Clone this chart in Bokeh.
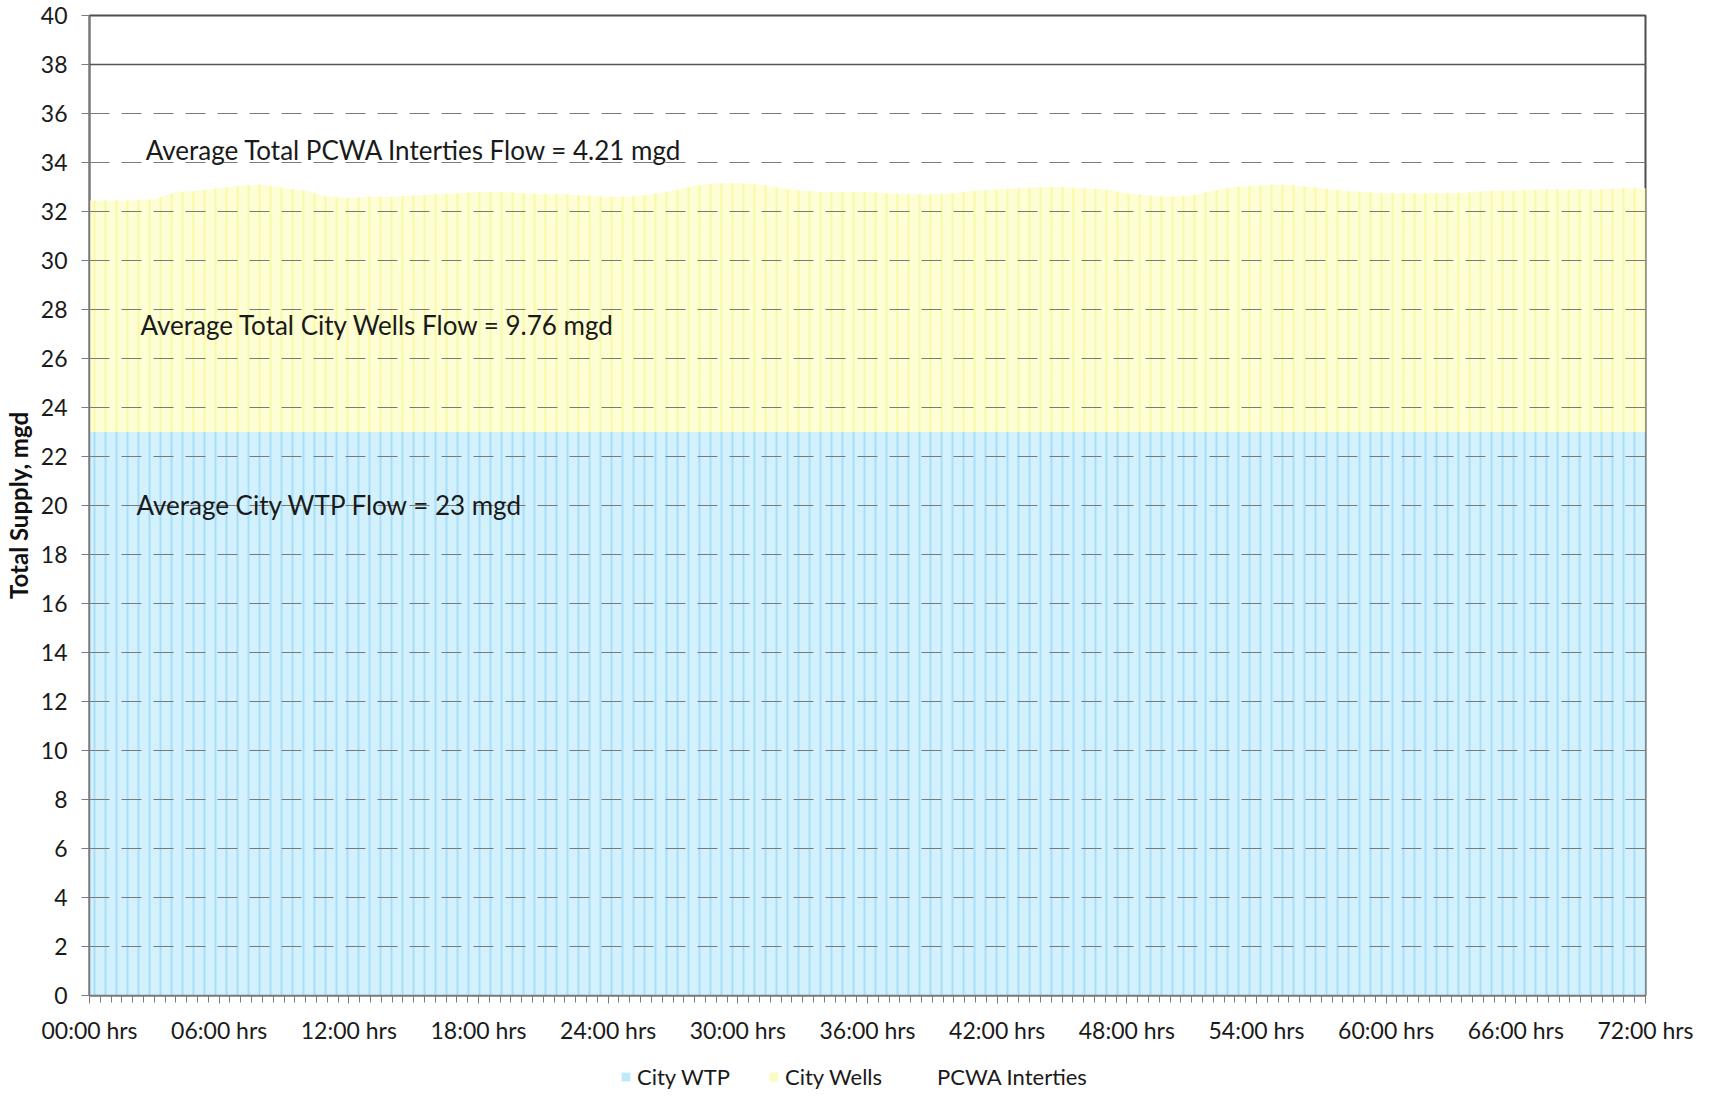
import numpy as np
from bokeh.plotting import figure
from bokeh.layouts import column
from bokeh.models import (FixedTicker, Label, Legend, LegendItem, Span, ColumnDataSource)
from bokeh.embed import file_html
from bokeh.resources import INLINE

# ---------------- data ----------------
hours = list(range(0, 73))
city_wtp = [23.0] * 73
city_wells = [9.45, 9.45, 9.45, 9.5, 9.8, 9.85, 9.95, 10.05, 10.1, 9.95, 9.85,
              9.6, 9.55, 9.6, 9.6, 9.65, 9.7, 9.75, 9.8, 9.8, 9.75, 9.7, 9.7, 9.65,
              9.6, 9.6, 9.7, 9.85, 10.05, 10.15, 10.15, 10.1, 9.95, 9.85, 9.8, 9.8,
              9.8, 9.75, 9.7, 9.7, 9.75, 9.85, 9.9, 9.95, 10.0, 10.0, 9.95, 9.9,
              9.75, 9.65, 9.6, 9.65, 9.85, 10.0, 10.05, 10.1, 10.05, 9.95, 9.85, 9.8,
              9.75, 9.75, 9.75, 9.75, 9.8, 9.85, 9.85, 9.9, 9.9, 9.9, 9.9, 9.95, 9.95]
pcwa_interties = [4.21] * 73

series_names = ["City WTP", "City Wells", "PCWA Interties"]
x_tick_hours = [0, 6, 12, 18, 24, 30, 36, 42, 48, 54, 60, 66, 72]
x_tick_labels = ["00:00 hrs", "06:00 hrs", "12:00 hrs", "18:00 hrs", "24:00 hrs",
                 "30:00 hrs", "36:00 hrs", "42:00 hrs", "48:00 hrs", "54:00 hrs",
                 "60:00 hrs", "66:00 hrs", "72:00 hrs"]
y_ticks = list(range(0, 41, 2))

note_texts = ["Average Total PCWA Interties Flow = 4.21 mgd",
              "Average Total City Wells Flow = 9.76 mgd",
              "Average City WTP Flow = 23 mgd"]
note_x = [2.6, 2.36, 2.17]
note_y = [34.5, 27.35, 20.04]

# ---------------- stacking ----------------
h = np.array(hours, dtype=float)
b0 = np.zeros(len(h))
t1 = b0 + np.array(city_wtp)
t2 = t1 + np.array(city_wells)
t3 = t2 + np.array(pcwa_interties)
src = ColumnDataSource(dict(x=h, b0=b0, t1=t1, t2=t2, t3=t3))
bands = [("b0", "t1"), ("t1", "t2"), ("t2", "t3")]

FONT = "Lato"
STYLES = [dict(fill_color="#d3f1fd", hatch_pattern="vertical_line", hatch_scale=11,
               hatch_weight=2, hatch_color="#a3dcf6", hatch_alpha=0.9),
          dict(fill_color="#fefed6", hatch_pattern="vertical_line", hatch_scale=11,
               hatch_weight=2, hatch_color="#f8f8a0", hatch_alpha=0.9),
          dict(fill_color="white", fill_alpha=0.0)]
LEGEND_STYLES = [dict(fill_color="#bfe8fa"), dict(fill_color="#fbfbc4"),
                 dict(fill_color="white", fill_alpha=0.0)]

p = figure(frame_width=1556, frame_height=980, x_range=(0, 72), y_range=(0, 40),
           output_backend="svg", toolbar_location=None,
           min_border_left=85, min_border_right=58, min_border_top=15,
           min_border_bottom=50)
p.background_fill_color = "white"
p.border_fill_color = "white"
p.outline_line_color = "#4d4d4d"
p.outline_line_width = 2

for (lo, hi), st in zip(bands, STYLES):
    p.varea(x="x", y1=lo, y2=hi, source=src, **st)

# grid
p.xgrid.visible = False
p.ygrid.ticker = FixedTicker(ticks=y_ticks)
p.ygrid.grid_line_color = "#7a7a7a"
p.ygrid.grid_line_dash = "20 12"
p.ygrid.grid_line_width = 1.2
p.ygrid.level = "guide"
p.add_layout(Span(location=38, dimension="width", line_color="#555555", line_width=1.6))

# axes
p.xaxis.ticker = FixedTicker(ticks=x_tick_hours, minor_ticks=list(np.arange(0, 72.01, 0.5)))
p.xaxis.major_label_overrides = {t: l for t, l in zip(x_tick_hours, x_tick_labels)}
p.yaxis.ticker = FixedTicker(ticks=y_ticks)
for ax in (p.xaxis[0], p.yaxis[0]):
    ax.axis_line_color = "#7a7a7a"
    ax.axis_line_width = 1.5
    ax.major_tick_line_color = "#7a7a7a"
    ax.minor_tick_line_color = "#7a7a7a"
    ax.major_tick_in = 0
    ax.major_tick_out = 8
    ax.minor_tick_in = 0
    ax.major_label_text_font = FONT
    ax.major_label_text_font_size = "23px"
    ax.major_label_text_color = "#1a1a1a"
p.xaxis.minor_tick_out = 7
p.yaxis.minor_tick_out = 0
p.xaxis.major_label_standoff = 12
p.yaxis.major_label_standoff = 14
p.yaxis.axis_label = "Total Supply, mgd"
p.yaxis.axis_label_text_font = FONT
p.yaxis.axis_label_text_font_style = "bold"
p.yaxis.axis_label_text_font_size = "24px"
p.yaxis.axis_label_text_color = "#111111"
p.yaxis.axis_label_standoff = 5

for t, x, y in zip(note_texts, note_x, note_y):
    p.add_layout(Label(x=x, y=y, text=t, text_font=FONT, text_font_size="26px",
                       text_color="#1a1a1a", text_baseline="middle", text_align="left"))

# ---------------- legend strip below the chart ----------------
# the same series, drawn off-screen in a strip figure that only shows the legend
lg = figure(width=1699, height=44, output_backend="svg", toolbar_location=None,
            x_axis_type=None, y_axis_type=None, x_range=(-20, -10), y_range=(0, 1),
            min_border=0)
lg.outline_line_color = None
items = []
for name, (lo, hi), st in zip(series_names, bands, LEGEND_STYLES):
    rr = lg.varea(x="x", y1=lo, y2=hi, source=src, **st)
    items.append(LegendItem(label=name, renderers=[rr]))
legend = Legend(items=items, orientation="horizontal", location=(531, 0),
                label_text_font=FONT, label_text_font_size="22px",
                label_text_color="#1a1a1a", glyph_width=11, glyph_height=11,
                spacing=38, label_standoff=6, border_line_color=None,
                background_fill_alpha=0, padding=2, margin=0)
lg.add_layout(legend, "center")

layout = column(p, lg, spacing=0)
open("out.html", "w").write(file_html(layout, INLINE))
